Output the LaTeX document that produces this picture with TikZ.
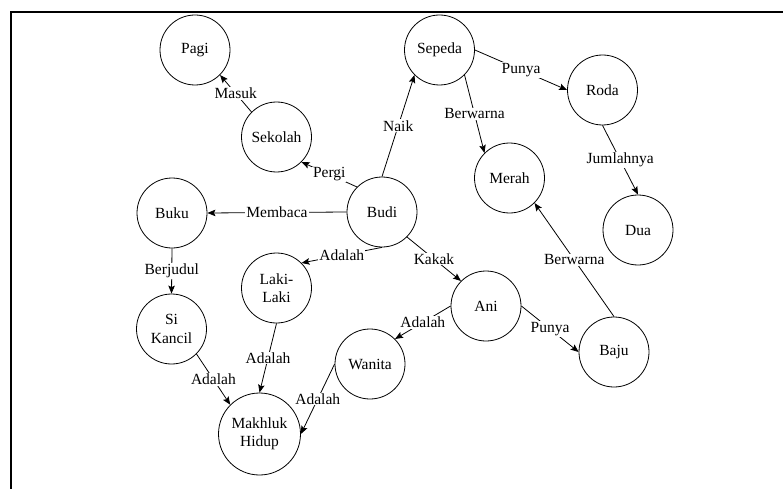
\documentclass[tikz,border=0pt]{standalone}
\usepackage{fontspec}
\setmainfont{Liberation Serif}
\usetikzlibrary{arrows.meta}
\begin{document}
\begin{tikzpicture}[x=1pt,y=-1pt,
  concept/.style={circle, draw, line width=0.8pt, minimum size=70pt, inner sep=0pt, align=center, font=\fontsize{15.5}{18.5}\selectfont},
  bigconcept/.style={concept, minimum size=82pt},
  rel/.style={draw, line width=0.8pt, -{Stealth[length=8pt,width=6.5pt,inset=1.5pt]}},
  lbl/.style={fill=white, inner sep=1pt, font=\fontsize{15.5}{18.5}\selectfont}
]
\useasboundingbox (0,0) rectangle (783,489);
\draw[line width=2pt] (783,12) -- (11,12) -- (11,489);

\node[concept] (pagi) at (195,50) {Pagi};
\node[concept] (sekolah) at (276.5,137) {Sekolah};
\node[concept] (buku) at (172,213) {Buku};
\node[concept] (budi) at (382,212) {Budi};
\node[concept] (sepeda) at (439.5,50) {Sepeda};
\node[concept] (roda) at (602.5,90) {Roda};
\node[concept] (merah) at (509.5,178) {Merah};
\node[concept] (dua) at (638,230) {Dua};
\node[concept] (laki) at (276.5,288) {Laki-\\Laki};
\node[concept] (kancil) at (171.5,329) {Si\\Kancil};
\node[concept] (wanita) at (370,364) {Wanita};
\node[bigconcept] (makhluk) at (259.5,434) {Makhluk\\Hidup};
\node[concept] (ani) at (486,306) {Ani};
\node[concept] (baju) at (614,352) {Baju};

\draw[rel] (sekolah.north west) -- node[lbl] {Masuk} (pagi.south east);
\draw[rel] (budi.north west) -- node[lbl] {Pergi} (sekolah.south east);
\draw[rel] (budi.west) -- node[lbl] {Membaca} (buku.east);
\draw[rel] (budi.north) -- node[lbl] {Naik} (sepeda.south west);
\draw[rel] (sepeda.east) -- node[lbl] {Punya} (roda.west);
\draw[rel] (sepeda.south east) -- node[lbl] {Berwarna} (merah.north west);
\draw[rel] (roda.south) -- node[lbl] {Jumlahnya} (dua.north);
\draw[rel] (baju.north) -- node[lbl] {Berwarna} (merah.south east);
\draw[rel] (budi.south) -- node[lbl] {Adalah} (laki.north east);
\draw[rel] (budi.south east) -- node[lbl] {Kakak} (ani.north west);
\draw[rel] (ani.west) -- node[lbl] {Adalah} (wanita.north east);
\draw[rel] (ani.east) -- node[lbl] {Punya} (baju.west);
\draw[rel] (buku.south) -- node[lbl] {Berjudul} (kancil.north);
\draw[rel] (kancil.south east) -- node[lbl] {Adalah} (makhluk.north west);
\draw[rel] (laki.south) -- node[lbl] {Adalah} (makhluk.north);
\draw[rel] (wanita.west) -- node[lbl] {Adalah} (makhluk.east);
\end{tikzpicture}
\end{document}
